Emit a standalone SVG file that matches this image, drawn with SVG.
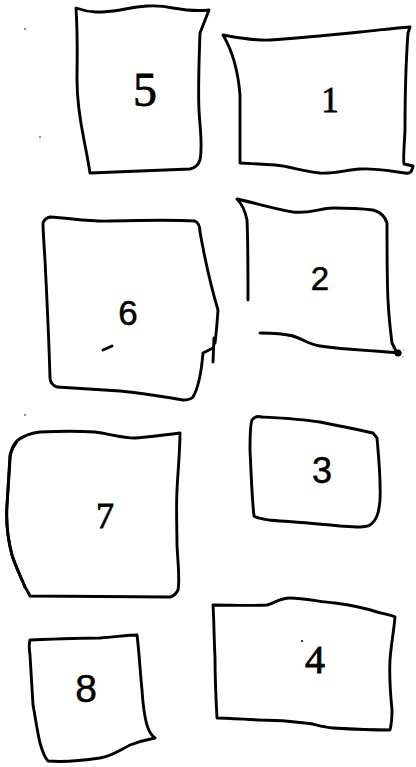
<svg xmlns="http://www.w3.org/2000/svg" width="416" height="767" viewBox="0 0 416 767">
<style>
.b{fill:none;stroke:#000;stroke-width:2.9;stroke-linecap:round;stroke-linejoin:round}
.t{font-family:"Liberation Serif","Times New Roman",serif;fill:#000;stroke:#000;stroke-width:0.8;text-anchor:middle}
.s{font-family:"Liberation Sans",Arial,sans-serif;fill:#000;stroke:#000;stroke-width:0.5;text-anchor:middle}
.d{fill:#000}
</style>
<rect width="416" height="767" fill="#fff"/>
<g id="node-5">
<path class="b" d="M76,8 C90,13 100,13 120,10 C140,6 155,4 173,8 C190,11 200,11 209,10 L200,33 C199,60 198,90 199,110 C200,130 203,145 200,160 C198,166 195,168 190,169 L90,173 C88,160 86,150 84,140 C80,120 77,100 77,80 C77,60 78,40 76,8 Z"/>
<text class="t" x="145" y="106" font-size="48">5</text>
</g>
<g id="node-1">
<path class="b" d="M223,35 C240,38 255,41 270,40 C300,38 330,35 360,32 C380,30 395,28 410,27 L408,33 C406,60 405,100 405,130 C404,150 403,160 404,164 L413,166 C412,172 410,174 405,173 C390,171 375,168 360,169 C345,170 335,174 320,173 C300,171 290,166 275,165 L240,163 C240,140 240,110 240,95 C238,70 232,50 223,35 Z"/>
<text class="t" x="330" y="112" font-size="35">1</text>
</g>
<g id="node-6">
<path class="b" d="M213,348 L203,353 C202,365 200,385 193,397 C190,400 186,400 183,400 C160,396 140,393 120,391 C90,389 70,388 57,387 C52,385 50,382 50,378 C49,340 47,300 45,260 C44,245 43,230 43,223 C44,220 46,218 50,217 C70,218 90,222 110,221 C150,220 180,220 195,221 C199,223 200,227 200,232 C205,260 212,290 218,310 C217,325 216,335 215,343"/>
<path class="b" d="M214,338 L213,362"/>
<path class="b" stroke-width="1.6" d="M103,350 L112,346"/>
<text class="s" x="128" y="325" font-size="35">6</text>
</g>
<g id="node-2">
<path class="b" d="M248,300 C248,270 248,240 247,220 C245,210 241,203 237,199 C255,203 275,209 293,212 C310,214 320,208 333,208 C350,208 365,209 373,210 C380,212 385,216 387,223 C387,250 387,280 388,300 C389,320 391,335 392,343 L397,353"/>
<path class="b" d="M260,333 C275,333 285,334 293,336 C305,340 310,345 320,346 C340,349 360,350 375,351 L400,353"/>
<circle cx="398" cy="353" r="3.5" class="d"/>
<circle cx="393" cy="349" r="0.8" fill="#888"/>
<circle cx="403" cy="357" r="0.8" fill="#888"/>
<circle cx="404" cy="350" r="0.7" fill="#888"/>
<text class="s" x="320" y="290" font-size="33">2</text>
</g>
<g id="node-7">
<path class="b" d="M18,440 C25,435 30,433 40,432 C60,431 80,431 95,432 C110,434 122,438 135,438 C150,437 165,435 180,433 C180,450 178,470 177,490 C176,510 177,530 177,545 C178,565 180,580 178,590 C176,594 174,596 170,597 L30,596 C28,592 27,590 25,587 C20,575 15,565 12,555 C8,540 6,520 7,505 C8,490 9,470 10,455 C12,448 14,443 18,440 Z"/>
<path class="b" stroke-width="5" d="M16,443 C12,448 10,452 10,460 C9,475 8,490 7,505 C6,520 8,540 12,555 C15,565 20,575 25,587"/>
<text class="t" x="105" y="528" font-size="36">7</text>
</g>
<g id="node-3">
<path class="b" d="M252,420 C254,417 258,416 262,417 C280,418 300,419 320,422 C340,426 360,430 373,433 L377,438 C379,460 381,480 380,500 C379,512 377,520 370,525 C365,528 355,527 340,526 C320,524 300,522 280,521 C265,520 258,519 254,516 C252,500 251,470 250,450 C250,435 250,425 252,420 Z"/>
<text class="s" x="322" y="483" font-size="36">3</text>
</g>
<g id="node-8">
<path class="b" d="M30,640 C55,639 80,638 100,638 C115,637 128,635 137,635 C139,650 140,670 142,690 C143,705 145,720 148,728 C150,733 152,736 155,738 C145,740 138,742 130,745 C120,750 112,756 100,758 C80,761 60,762 48,761 C44,757 42,750 40,743 C37,730 35,715 33,705 C32,690 31,670 30,655 C29,648 29,643 30,640 Z"/>
<text class="s" x="86" y="702" font-size="39">8</text>
</g>
<g id="node-4">
<path class="b" d="M213,605 C230,605 250,606 267,605 C275,603 280,598 290,598 C305,598 320,602 335,603 C350,605 365,608 377,612 C385,614 392,615 395,617 C394,630 391,645 390,660 C389,680 391,700 392,710 C392,720 391,726 390,730 C370,730 350,729 333,728 C320,727 312,723 305,723 C290,721 275,720 260,720 C240,719 225,718 217,718 C216,700 215,680 215,657 C214,640 214,620 213,605 Z"/>
<text class="t" x="315" y="673" font-size="40">4</text>
<circle cx="302" cy="641" r="1" class="d"/>
</g>
<g id="connectors"></g>
<g id="specks">
<circle cx="25" cy="29" r="0.8" class="d"/>
<circle cx="40" cy="137" r="0.8" class="d"/>
<circle cx="25" cy="415" r="0.8" class="d"/>
</g>
</svg>
